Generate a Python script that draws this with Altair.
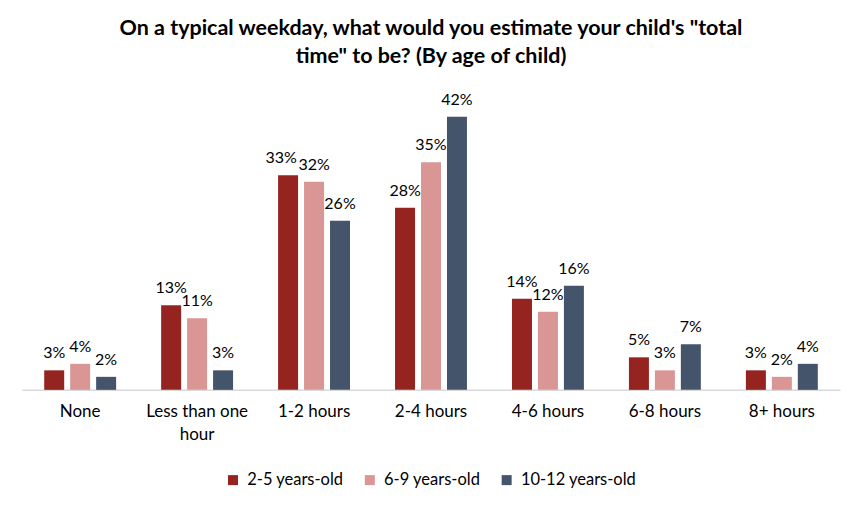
import altair as alt
import pandas as pd

categories = ["None", "Less than one hour", "1-2 hours", "2-4 hours", "4-6 hours", "6-8 hours", "8+ hours"]
series = ["2-5 years-old", "6-9 years-old", "10-12 years-old"]
v_2_5 = [3, 13, 33, 28, 14, 5, 3]
v_6_9 = [4, 11, 32, 35, 12, 3, 2]
v_10_12 = [2, 3, 26, 42, 16, 7, 4]
colors = ["#95231F", "#D99694", "#44546A"]

rows = []
for s, vals in zip(series, [v_2_5, v_6_9, v_10_12]):
    for c, v in zip(categories, vals):
        rows.append({"cat": c, "series": s, "value": v, "label": f"{v}%"})
df = pd.DataFrame(rows)

FONT = "Lato"

x = alt.X("cat:N", sort=categories, title=None,
          scale=alt.Scale(paddingInner=0.385, paddingOuter=0.19),
          axis=alt.Axis(labelAngle=0, ticks=False, domainColor="#d9d9d9", domainWidth=1.5,
                        labelFontSize=17, labelColor="#000000", labelFont=FONT, labelPadding=14,
                        labelLineHeight=23,
                        labelExpr="datum.value == 'Less than one hour' ? ['Less than one', 'hour'] : datum.value"))
xo = alt.XOffset("series:N", sort=series, scale=alt.Scale(paddingInner=0.23, paddingOuter=0))
y = alt.Y("value:Q", scale=alt.Scale(domain=[0, 45]), axis=None)

base = alt.Chart(df).encode(x=x, xOffset=xo, y=y)

bars = base.mark_bar().encode(
    color=alt.Color("series:N", sort=series, scale=alt.Scale(domain=series, range=colors),
                    legend=alt.Legend(title=None, orient="none", direction="horizontal",
                                      legendX=203, legendY=375, symbolType="square", symbolSize=100,
                                      symbolStrokeWidth=0, labelFontSize=16.5, labelFont=FONT,
                                      labelColor="#000000", columnPadding=18, labelOffset=6,
                                      padding=0))
)
crowded = "datum.cat == '1-2 hours' && datum.series == '2-5 years-old'"
text = base.mark_text(baseline="alphabetic", dy=-12, fontSize=16, font=FONT, color="#000000").encode(
    text="label:N").transform_filter("!(" + crowded + ")")
text_shift = base.mark_text(baseline="alphabetic", dy=-12, dx=-7, fontSize=16, font=FONT,
                            color="#000000").encode(text="label:N").transform_filter(crowded)

chart = (bars + text + text_shift).properties(
    width=819, height=293,
    autosize=alt.AutoSizeParams(type="none"),
    padding={"left": 14, "top": 89, "right": 14, "bottom": 120},
    title=alt.Title(["On a typical weekday, what would you estimate your child's \"total",
                     "time\" to be? (By age of child)"],
                    fontSize=21.5, font=FONT, fontWeight="bold", color="#000000",
                    lineHeight=28, anchor="middle", offset=24),
).configure_view(stroke=None)

chart.save("out.html", embed_options={"renderer": "svg", "actions": False})
